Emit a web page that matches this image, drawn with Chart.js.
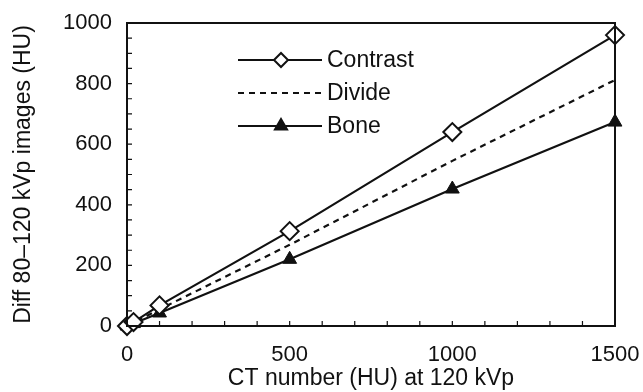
<!DOCTYPE html>
<html>
<head>
<meta charset="utf-8">
<script src="https://cdn.jsdelivr.net/npm/chart.js@4/dist/chart.umd.min.js"></script>
<style>
  body { margin: 0; background: #fff; }
</style>
</head>
<body>
<canvas id="ctChart" width="643" height="392"></canvas>
<script>
// CT number at 120 kVp
const ctNumbers = [0, 20, 100, 500, 1000, 1500];
// difference 80-120 kVp (HU)
const contrast = [0, 13, 68, 313, 640, 960];
const divide = [0, 11, 55, 268, 545, 812];
const bone = [0, 8, 43, 220, 452, 673];

const xTicks = [0, 500, 1000, 1500];
const yTicks = [0, 200, 400, 600, 800, 1000];

const FONT = 'Liberation Sans, Arial, Helvetica, sans-serif';
const INK = '#111111';

function points(ys) {
    return ctNumbers.map((x, i) => ({ x: x, y: ys[i] }));
}

// drop the label overflow padding so the plot box sits where layout.padding says
function noEdgePadding(s) {
    s.paddingTop = 0;
    s.paddingBottom = 0;
    s.paddingLeft = 0;
    s.paddingRight = 0;
}

// box frame, inward minor ticks, and the legend inside the plot
const framePlugin = {
    id: 'frame',
    afterDraw(chart) {
        const { ctx, chartArea: a, scales } = chart;
        ctx.save();
        ctx.strokeStyle = INK;
        ctx.lineWidth = 2;
        ctx.strokeRect(a.left, a.top, a.right - a.left, a.bottom - a.top);

        ctx.lineWidth = 1.2;
        ctx.beginPath();
        for (let v = 100; v < 1500; v += 100) {
            const px = scales.x.getPixelForValue(v);
            ctx.moveTo(px, a.bottom);
            ctx.lineTo(px, a.bottom - 5);
        }
        for (let v = 50; v < 1000; v += 50) {
            const py = scales.y.getPixelForValue(v);
            ctx.moveTo(a.left, py);
            ctx.lineTo(a.left + 5, py);
        }
        ctx.stroke();

        // legend (markers a bit smaller than in the plot)
        const rows = [37, 70, 103];
        ctx.font = '23px ' + FONT;
        ctx.textBaseline = 'middle';
        ctx.fillStyle = INK;
        chart.data.datasets.forEach((ds, i) => {
            const y = a.top + rows[i];
            const x0 = a.left + 111, x1 = a.left + 195, xm = a.left + 154;
            ctx.strokeStyle = INK;
            ctx.lineWidth = 2;
            ctx.setLineDash(ds.borderDash || []);
            ctx.beginPath();
            ctx.moveTo(x0, y);
            ctx.lineTo(x1, y);
            ctx.stroke();
            ctx.setLineDash([]);
            if (ds.pointRadius > 0) {
                ctx.fillStyle = ds.pointBackgroundColor;
                ctx.strokeStyle = INK;
                ctx.lineWidth = 2;
                Chart.helpers.drawPoint(ctx, {
                    pointStyle: ds.pointStyle,
                    radius: 7,
                    rotation: 0,
                    borderWidth: 2
                }, xm, y);
            }
            ctx.fillStyle = INK;
            ctx.fillText(ds.label, a.left + 200, y + 1);
        });
        ctx.restore();
    }
};

new Chart(document.getElementById('ctChart'), {
    type: 'scatter',
    data: {
        datasets: [
            {
                label: 'Contrast',
                data: points(contrast),
                showLine: true,
                borderColor: INK,
                borderWidth: 2.2,
                pointStyle: 'rectRot',
                pointRadius: 9,
                pointBackgroundColor: '#ffffff',
                pointBorderColor: INK,
                pointBorderWidth: 2,
                clip: false
            },
            {
                label: 'Divide',
                data: points(divide),
                showLine: true,
                borderColor: INK,
                borderWidth: 2.2,
                borderDash: [6, 5],
                pointRadius: 0,
                clip: false
            },
            {
                label: 'Bone',
                data: points(bone),
                showLine: true,
                borderColor: INK,
                borderWidth: 2.2,
                pointStyle: 'triangle',
                pointRadius: 8,
                pointBackgroundColor: INK,
                pointBorderColor: INK,
                pointBorderWidth: 1,
                clip: false
            }
        ]
    },
    options: {
        responsive: false,
        animation: false,
        layout: { autoPadding: false, padding: { top: 23, right: 28, bottom: 0, left: 0 } },
        plugins: {
            legend: { display: false },
            tooltip: { enabled: false }
        },
        scales: {
            x: {
                type: 'linear',
                min: 0,
                max: 1500,
                afterBuildTicks: s => { s.ticks = xTicks.map(v => ({ value: v })); },
                afterFit: s => { s.height = 66; noEdgePadding(s); },
                grid: { display: false, drawTicks: false },
                border: { display: false },
                ticks: { color: INK, font: { family: FONT, size: 22 }, padding: 16, maxRotation: 0, callback: v => String(v) },
                title: {
                    display: true,
                    text: 'CT number (HU) at 120 kVp',
                    color: INK,
                    font: { family: FONT, size: 23 },
                    padding: { top: 0, bottom: 0 }
                }
            },
            y: {
                type: 'linear',
                min: 0,
                max: 1000,
                afterBuildTicks: s => { s.ticks = yTicks.map(v => ({ value: v })); },
                afterFit: s => { s.width = 127; noEdgePadding(s); },
                grid: { display: false, drawTicks: false },
                border: { display: false },
                ticks: { color: INK, font: { family: FONT, size: 22 }, padding: 15, callback: v => String(v) },
                title: {
                    display: true,
                    text: 'Diff 80\u2013120 kVp images (HU)',
                    color: INK,
                    font: { family: FONT, size: 23 },
                    padding: { top: 10, bottom: 0 }
                }
            }
        }
    },
    plugins: [framePlugin]
});
</script>
</body>
</html>
